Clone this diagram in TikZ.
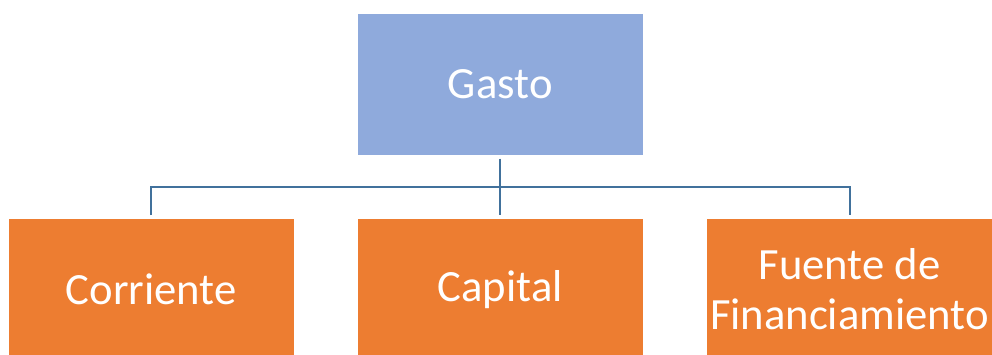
\documentclass[tikz,border=0pt]{standalone}
\usepackage{fontspec}
\setmainfont{Carlito}
\usepackage{tikz}
\definecolor{gastoblue}{HTML}{8FAADC}
\definecolor{tipoorange}{HTML}{ED7D31}
\definecolor{lineblue}{HTML}{41719C}
\tikzset{
	caja/.style={draw=white, line width=0.4pt, text=white, align=center, inner sep=0pt,
		minimum width=214.5pt, minimum height=106pt, font=\fontsize{33.5}{37.5}\selectfont},
	conector/.style={draw=lineblue, line width=1.5pt}
}
\begin{document}
\begin{tikzpicture}[x=0.75pt, y=-0.75pt]
		\clip (0, 0) rectangle (992, 354);
		\fill[white] (0, 0) rectangle (992, 354);
		\node[caja, fill=gastoblue] (gasto) at (500.25, 84.25) {Gasto};
		\node[caja, fill=tipoorange] (corriente) at (151.25, 289.4) {Corriente};
		\node[caja, fill=tipoorange] (capital) at (500.25, 289.4) {Capital};
		\node[caja, fill=tipoorange] (fuente) at (849.5, 289.4) {Fuente de\\Financiamiento};
		\coordinate (bus) at (500.25, 186.5);
		\draw[conector, shorten <=2.5pt] (gasto.south) -- (bus);
		\draw[conector, shorten <=2.5pt, shorten >=2.5pt] (corriente.north) |- (bus) -| (fuente.north);
		\draw[conector, shorten >=2.5pt] (bus) -- (capital.north);
	\end{tikzpicture}
\end{document}
